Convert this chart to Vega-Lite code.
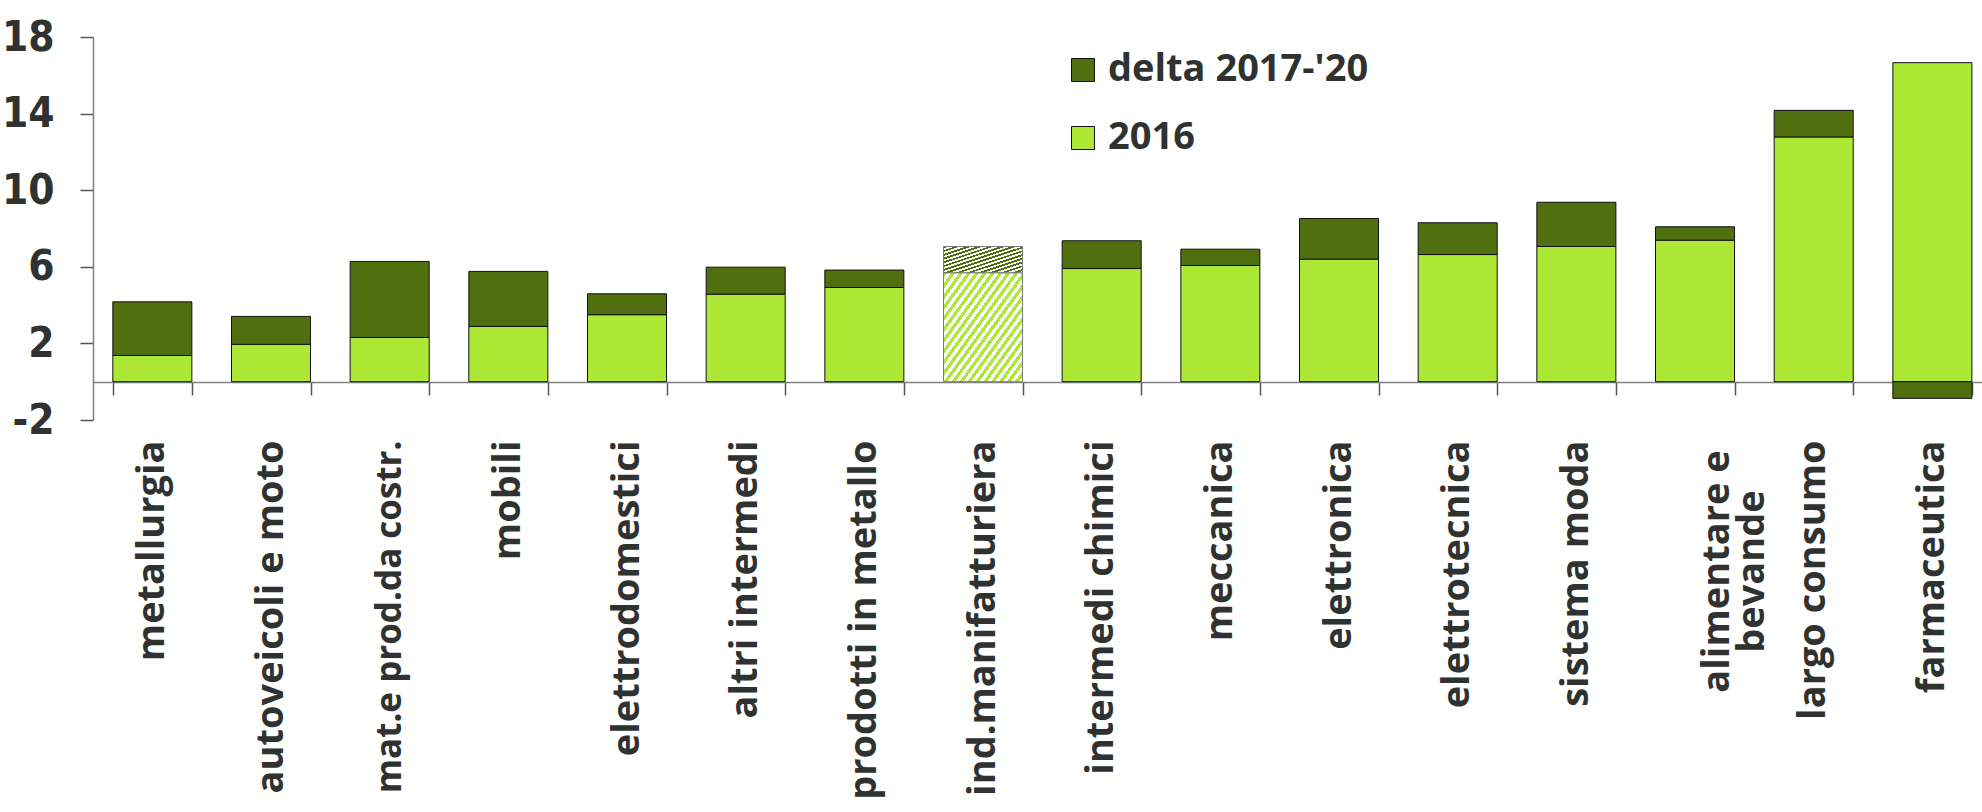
{
  "$schema": "https://vega.github.io/schema/vega-lite/v6.json",
  "autosize": {"type": "none"},
  "padding": {"left": 93, "top": 37, "right": 0, "bottom": 392},
  "width": 1889,
  "height": 383,
  "background": "white",
  "config": {"view": {"stroke": null}},
  "data": {
    "values": [
      {"settore": "metallurgia", "serie": "2016", "valore": 1.37},
      {"settore": "metallurgia", "serie": "delta 2017-'20", "valore": 2.80},
      {"settore": "autoveicoli e moto", "serie": "2016", "valore": 1.95},
      {"settore": "autoveicoli e moto", "serie": "delta 2017-'20", "valore": 1.46},
      {"settore": "mat.e prod.da costr.", "serie": "2016", "valore": 2.31},
      {"settore": "mat.e prod.da costr.", "serie": "delta 2017-'20", "valore": 3.97},
      {"settore": "mobili", "serie": "2016", "valore": 2.89},
      {"settore": "mobili", "serie": "delta 2017-'20", "valore": 2.87},
      {"settore": "elettrodomestici", "serie": "2016", "valore": 3.50},
      {"settore": "elettrodomestici", "serie": "delta 2017-'20", "valore": 1.09},
      {"settore": "altri intermedi", "serie": "2016", "valore": 4.57},
      {"settore": "altri intermedi", "serie": "delta 2017-'20", "valore": 1.41},
      {"settore": "prodotti in metallo", "serie": "2016", "valore": 4.92},
      {"settore": "prodotti in metallo", "serie": "delta 2017-'20", "valore": 0.91},
      {"settore": "ind.manifatturiera", "serie": "2016", "valore": 5.69},
      {"settore": "ind.manifatturiera", "serie": "delta 2017-'20", "valore": 1.37},
      {"settore": "intermedi chimici", "serie": "2016", "valore": 5.91},
      {"settore": "intermedi chimici", "serie": "delta 2017-'20", "valore": 1.45},
      {"settore": "meccanica", "serie": "2016", "valore": 6.07},
      {"settore": "meccanica", "serie": "delta 2017-'20", "valore": 0.85},
      {"settore": "elettronica", "serie": "2016", "valore": 6.40},
      {"settore": "elettronica", "serie": "delta 2017-'20", "valore": 2.12},
      {"settore": "elettrotecnica", "serie": "2016", "valore": 6.64},
      {"settore": "elettrotecnica", "serie": "delta 2017-'20", "valore": 1.66},
      {"settore": "sistema moda", "serie": "2016", "valore": 7.06},
      {"settore": "sistema moda", "serie": "delta 2017-'20", "valore": 2.31},
      {"settore": "alimentare e bevande", "serie": "2016", "valore": 7.39},
      {"settore": "alimentare e bevande", "serie": "delta 2017-'20", "valore": 0.70},
      {"settore": "largo consumo", "serie": "2016", "valore": 12.78},
      {"settore": "largo consumo", "serie": "delta 2017-'20", "valore": 1.39},
      {"settore": "farmaceutica", "serie": "2016", "valore": 16.66},
      {"settore": "farmaceutica", "serie": "delta 2017-'20", "valore": -0.87}
    ]
  },
  "mark": {"type": "bar", "strokeWidth": 1},
  "encoding": {
    "x": {
      "field": "settore",
      "type": "nominal",
      "sort": null,
      "title": null,
      "scale": {"range": [0, 1898.7], "paddingInner": 0.334, "paddingOuter": 0.167},
      "axis": {
        "offset": -38,
        "domainColor": "#808080",
        "domainWidth": 1.5,
        "tickBand": "extent",
        "tickColor": "#555555",
        "tickWidth": 1.5,
        "tickSize": 13,
        "labelPadding": {"condition": {"test": "datum.value == 'alimentare e bevande'", "value": 176}, "value": 45},
        "labelOffset": {"condition": {"test": "datum.value == 'alimentare e bevande'", "value": 22}, "value": 0},
        "labelAlign": {"condition": {"test": "datum.value == 'alimentare e bevande'", "value": "center"}, "value": "right"},
        "labelFontSize": {"condition": {"test": "datum.value == 'mat.e prod.da costr.'", "value": 35}, "value": 38},
        "labelAngle": -90,
        "labelBaseline": "middle",
        "labelFont": "Open Sans",
        "labelFontWeight": "bold",
        "labelColor": "#2f3230",
        "labelLimit": 0,
        "labelLineHeight": 35,
        "labelOverlap": false,
        "labelExpr": "datum.label == 'alimentare e bevande' ? ['alimentare e', 'bevande'] : datum.label"
      }
    },
    "y": {
      "field": "valore",
      "type": "quantitative",
      "stack": "zero",
      "title": null,
      "scale": {"domain": [-2, 18], "nice": false, "zero": false},
      "axis": {
        "values": [-2, 2, 6, 10, 14, 18],
        "grid": false,
        "domainColor": "#808080",
        "domainWidth": 1.5,
        "tickColor": "#555555",
        "tickWidth": 1.5,
        "tickSize": 13,
        "labelPadding": 26,
        "labelExpr": "datum.value < 0 ? '-' + abs(datum.value) : '' + datum.value",
        "labelFont": "Liberation Sans Narrow, DejaVu Sans Condensed, sans-serif",
        "labelFontWeight": "bold",
        "labelFontSize": 42,
        "labelColor": "#2f3230"
      }
    },
    "order": {"field": "serie", "sort": "ascending"},
    "stroke": {
      "condition": {"test": "datum.settore === 'ind.manifatturiera'", "value": "#7a7a7a"},
      "value": "#111111"
    },
    "color": {
      "field": "serie",
      "type": "nominal",
      "scale": {"domain": ["delta 2017-'20", "2016"], "range": ["#50700f", "#ace835"]},
      "condition": [
        {
          "test": "datum.settore === 'ind.manifatturiera' && datum.serie === '2016'",
          "value": {
            "gradient": "linear", "x1": 0, "y1": 0, "x2": 1, "y2": 1,
            "stops": [
              {"offset": 0, "color": "#ace835"}, {"offset": 0.025, "color": "#ace835"}, {"offset": 0.025, "color": "#ffffff"}, {"offset": 0.05, "color": "#ffffff"},
              {"offset": 0.05, "color": "#ace835"}, {"offset": 0.075, "color": "#ace835"}, {"offset": 0.075, "color": "#ffffff"}, {"offset": 0.1, "color": "#ffffff"},
              {"offset": 0.1, "color": "#ace835"}, {"offset": 0.125, "color": "#ace835"}, {"offset": 0.125, "color": "#ffffff"}, {"offset": 0.15, "color": "#ffffff"},
              {"offset": 0.15, "color": "#ace835"}, {"offset": 0.175, "color": "#ace835"}, {"offset": 0.175, "color": "#ffffff"}, {"offset": 0.2, "color": "#ffffff"},
              {"offset": 0.2, "color": "#ace835"}, {"offset": 0.225, "color": "#ace835"}, {"offset": 0.225, "color": "#ffffff"}, {"offset": 0.25, "color": "#ffffff"},
              {"offset": 0.25, "color": "#ace835"}, {"offset": 0.275, "color": "#ace835"}, {"offset": 0.275, "color": "#ffffff"}, {"offset": 0.3, "color": "#ffffff"},
              {"offset": 0.3, "color": "#ace835"}, {"offset": 0.325, "color": "#ace835"}, {"offset": 0.325, "color": "#ffffff"}, {"offset": 0.35, "color": "#ffffff"},
              {"offset": 0.35, "color": "#ace835"}, {"offset": 0.375, "color": "#ace835"}, {"offset": 0.375, "color": "#ffffff"}, {"offset": 0.4, "color": "#ffffff"},
              {"offset": 0.4, "color": "#ace835"}, {"offset": 0.425, "color": "#ace835"}, {"offset": 0.425, "color": "#ffffff"}, {"offset": 0.45, "color": "#ffffff"},
              {"offset": 0.45, "color": "#ace835"}, {"offset": 0.475, "color": "#ace835"}, {"offset": 0.475, "color": "#ffffff"}, {"offset": 0.5, "color": "#ffffff"},
              {"offset": 0.5, "color": "#ace835"}, {"offset": 0.525, "color": "#ace835"}, {"offset": 0.525, "color": "#ffffff"}, {"offset": 0.55, "color": "#ffffff"},
              {"offset": 0.55, "color": "#ace835"}, {"offset": 0.575, "color": "#ace835"}, {"offset": 0.575, "color": "#ffffff"}, {"offset": 0.6, "color": "#ffffff"},
              {"offset": 0.6, "color": "#ace835"}, {"offset": 0.625, "color": "#ace835"}, {"offset": 0.625, "color": "#ffffff"}, {"offset": 0.65, "color": "#ffffff"},
              {"offset": 0.65, "color": "#ace835"}, {"offset": 0.675, "color": "#ace835"}, {"offset": 0.675, "color": "#ffffff"}, {"offset": 0.7, "color": "#ffffff"},
              {"offset": 0.7, "color": "#ace835"}, {"offset": 0.725, "color": "#ace835"}, {"offset": 0.725, "color": "#ffffff"}, {"offset": 0.75, "color": "#ffffff"},
              {"offset": 0.75, "color": "#ace835"}, {"offset": 0.775, "color": "#ace835"}, {"offset": 0.775, "color": "#ffffff"}, {"offset": 0.8, "color": "#ffffff"},
              {"offset": 0.8, "color": "#ace835"}, {"offset": 0.825, "color": "#ace835"}, {"offset": 0.825, "color": "#ffffff"}, {"offset": 0.85, "color": "#ffffff"},
              {"offset": 0.85, "color": "#ace835"}, {"offset": 0.875, "color": "#ace835"}, {"offset": 0.875, "color": "#ffffff"}, {"offset": 0.9, "color": "#ffffff"},
              {"offset": 0.9, "color": "#ace835"}, {"offset": 0.925, "color": "#ace835"}, {"offset": 0.925, "color": "#ffffff"}, {"offset": 0.95, "color": "#ffffff"},
              {"offset": 0.95, "color": "#ace835"}, {"offset": 0.975, "color": "#ace835"}, {"offset": 0.975, "color": "#ffffff"}, {"offset": 1, "color": "#ffffff"}
            ]
          }
        },
        {
          "test": "datum.settore === 'ind.manifatturiera' && datum.serie !== '2016'",
          "value": {
            "gradient": "linear", "x1": 0, "y1": 0, "x2": 1, "y2": 1,
            "stops": [
              {"offset": 0, "color": "#50700f"}, {"offset": 0.0357, "color": "#50700f"}, {"offset": 0.0357, "color": "#ffffff"}, {"offset": 0.0714, "color": "#ffffff"},
              {"offset": 0.0714, "color": "#50700f"}, {"offset": 0.1071, "color": "#50700f"}, {"offset": 0.1071, "color": "#ffffff"}, {"offset": 0.1429, "color": "#ffffff"},
              {"offset": 0.1429, "color": "#50700f"}, {"offset": 0.1786, "color": "#50700f"}, {"offset": 0.1786, "color": "#ffffff"}, {"offset": 0.2143, "color": "#ffffff"},
              {"offset": 0.2143, "color": "#50700f"}, {"offset": 0.25, "color": "#50700f"}, {"offset": 0.25, "color": "#ffffff"}, {"offset": 0.2857, "color": "#ffffff"},
              {"offset": 0.2857, "color": "#50700f"}, {"offset": 0.3214, "color": "#50700f"}, {"offset": 0.3214, "color": "#ffffff"}, {"offset": 0.3571, "color": "#ffffff"},
              {"offset": 0.3571, "color": "#50700f"}, {"offset": 0.3929, "color": "#50700f"}, {"offset": 0.3929, "color": "#ffffff"}, {"offset": 0.4286, "color": "#ffffff"},
              {"offset": 0.4286, "color": "#50700f"}, {"offset": 0.4643, "color": "#50700f"}, {"offset": 0.4643, "color": "#ffffff"}, {"offset": 0.5, "color": "#ffffff"},
              {"offset": 0.5, "color": "#50700f"}, {"offset": 0.5357, "color": "#50700f"}, {"offset": 0.5357, "color": "#ffffff"}, {"offset": 0.5714, "color": "#ffffff"},
              {"offset": 0.5714, "color": "#50700f"}, {"offset": 0.6071, "color": "#50700f"}, {"offset": 0.6071, "color": "#ffffff"}, {"offset": 0.6429, "color": "#ffffff"},
              {"offset": 0.6429, "color": "#50700f"}, {"offset": 0.6786, "color": "#50700f"}, {"offset": 0.6786, "color": "#ffffff"}, {"offset": 0.7143, "color": "#ffffff"},
              {"offset": 0.7143, "color": "#50700f"}, {"offset": 0.75, "color": "#50700f"}, {"offset": 0.75, "color": "#ffffff"}, {"offset": 0.7857, "color": "#ffffff"},
              {"offset": 0.7857, "color": "#50700f"}, {"offset": 0.8214, "color": "#50700f"}, {"offset": 0.8214, "color": "#ffffff"}, {"offset": 0.8571, "color": "#ffffff"},
              {"offset": 0.8571, "color": "#50700f"}, {"offset": 0.8929, "color": "#50700f"}, {"offset": 0.8929, "color": "#ffffff"}, {"offset": 0.9286, "color": "#ffffff"},
              {"offset": 0.9286, "color": "#50700f"}, {"offset": 0.9643, "color": "#50700f"}, {"offset": 0.9643, "color": "#ffffff"}, {"offset": 1, "color": "#ffffff"}
            ]
          }
        }
      ],
      "legend": {
        "title": null,
        "orient": "none",
        "legendX": 971,
        "legendY": 14,
        "symbolType": "square",
        "symbolSize": 529,
        "symbolStrokeColor": "#111111",
        "symbolStrokeWidth": 1,
        "symbolOpacity": 1,
        "labelFont": "Open Sans",
        "labelFontWeight": "bold",
        "labelFontSize": 38,
        "labelColor": "#2f3230",
        "labelOffset": 6,
        "labelLimit": 0,
        "rowPadding": 30,
        "padding": 0
      }
    }
  }
}
